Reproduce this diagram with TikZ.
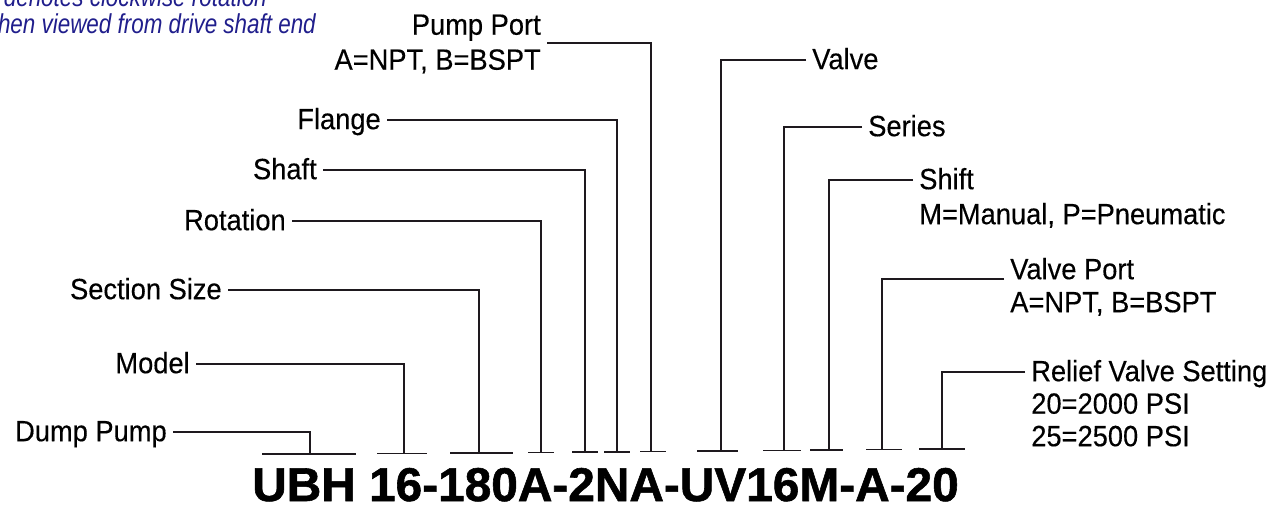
\documentclass[tikz,border=0pt]{standalone}
\usepackage{fontspec}
\setmainfont{Liberation Sans}[FakeStretch=0.93, FakeBold=0.3]
\newfontfamily\codefont{Liberation Sans}[FakeStretch=1.01, FakeBold=1.2]
\newfontfamily\notefont{Liberation Sans}[FakeStretch=0.82]
\usetikzlibrary{calc}
\definecolor{notecol}{RGB}{32,30,140}
\definecolor{linecol}{RGB}{30,25,30}
\begin{document}
\begin{tikzpicture}[x=0.75pt,y=-0.75pt,
  lab/.style={font=\fontsize{22}{26.25}\selectfont, inner xsep=4.5pt, inner ysep=0pt, text height=15.8pt, text depth=2pt},
  multlab/.style={font=\fontsize{22}{26.25}\selectfont, inner xsep=4.5pt, inner ysep=0pt},
  sublab/.style={font=\fontsize{22}{26.25}\selectfont, inner xsep=4.5pt, inner ysep=0pt, anchor=base west},
  lead/.style={draw=linecol, line width=1pt},
  note/.style={font=\notefont\itshape\fontsize{20.5}{20.5}\selectfont, text=notecol, inner sep=0pt, anchor=base east}]
\useasboundingbox (0,0) rectangle (1284,508);
\clip (0,0) rectangle (1284,508);

% note text (cut off by the frame)
\node[note] (note1) at (267,6) {denotes clockwise rotation};
\node[note] (note2) at (316,33) {when viewed from drive shaft end};

% code
\node[font=\codefont\bfseries\fontsize{35.5}{35.5}\selectfont, inner sep=0pt, anchor=base west] (code) at (252,501) {UBH 16-180A-2NA-UV16M-A-20};

% base segments: left end, junction, right end
\coordinate (l1) at (262,454);   \coordinate (b1) at (310,454);   \coordinate (r1) at (356,454);
\coordinate (l2) at (377,453.5); \coordinate (b2) at (404,453.5); \coordinate (r2) at (427,453.5);
\coordinate (l3) at (450,453);   \coordinate (b3) at (479,453);   \coordinate (r3) at (513,453);
\coordinate (l4) at (528,452.5); \coordinate (b4) at (541,452.5); \coordinate (r4) at (554,452.5);
\coordinate (l5) at (572,452);   \coordinate (b5) at (585,452);   \coordinate (r5) at (598,452);
\coordinate (l6) at (604,452);   \coordinate (b6) at (617,452);   \coordinate (r6) at (630,452);
\coordinate (l7) at (640,451.5); \coordinate (b7) at (651,451.5); \coordinate (r7) at (666,451.5);
\coordinate (l8) at (697,451);   \coordinate (b8) at (721,451);   \coordinate (r8) at (738,451);
\coordinate (l9) at (763,450.5); \coordinate (b9) at (784,450.5); \coordinate (r9) at (801,450.5);
\coordinate (l10) at (810,450);  \coordinate (b10) at (829,450); \coordinate (r10) at (843,450);
\coordinate (l11) at (866,449.5);\coordinate (b11) at (882,449.5);\coordinate (r11) at (902,449.5);
\coordinate (l12) at (919,449);  \coordinate (b12) at (942,449); \coordinate (r12) at (965,449);
\foreach \i in {1,...,12} { \draw[lead] (l\i) -- (r\i); }

% left labels
\node[lab, anchor=east] (dump) at (173,432) {Dump Pump};
\node[lab, anchor=east] (model) at (196,364) {Model};
\node[lab, anchor=east] (section) at (228,290) {Section Size};
\node[lab, anchor=east] (rotation) at (292,221) {Rotation};
\node[lab, anchor=east] (shaft) at (323,170) {Shaft};
\node[lab, anchor=east] (flange) at (387,120) {Flange};
\node[multlab, anchor=east, align=right] (pport) at (547,44) {Pump Port\\A=NPT, B=BSPT};

% right labels
\node[lab, anchor=west] (valve) at (806,60) {Valve};
\node[lab, anchor=west] (series) at (862,127) {Series};
\node[lab, anchor=west] (nshift) at (913,180) {Shift};
\node[sublab] (nshiftsub) at ($(nshift.base west)+(0,35)$) {M=Manual, P=Pneumatic};
\node[lab, anchor=west] (vport) at (1004,270) {Valve Port};
\node[sublab] (vportsub) at ($(vport.base west)+(0,33)$) {A=NPT, B=BSPT};
\node[lab, anchor=west] (relief) at (1025,372) {Relief Valve Setting};
\node[sublab] (reliefsub1) at ($(relief.base west)+(0,32.5)$) {20=2000 PSI};
\node[sublab] (reliefsub2) at ($(reliefsub1.base west)+(0,32.5)$) {25=2500 PSI};

% leaders
\draw[lead] (dump.east) -| (b1);
\draw[lead] (model.east) -| (b2);
\draw[lead] (section.east) -| (b3);
\draw[lead] (rotation.east) -| (b4);
\draw[lead] (shaft.east) -| (b5);
\draw[lead] (flange.east) -| (b6);
\draw[lead] ([yshift=0.75pt]pport.east) -| (b7);
\draw[lead] (valve.west) -| (b8);
\draw[lead] (series.west) -| (b9);
\draw[lead] (nshift.west) -| (b10);
\draw[lead] ([yshift=-6.75pt]vport.west) -| (b11);
\draw[lead] (relief.west) -| (b12);
\end{tikzpicture}
\end{document}
